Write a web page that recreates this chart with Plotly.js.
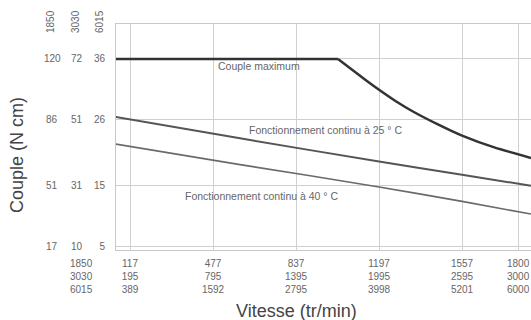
<!DOCTYPE html>
<html>
<head>
<meta charset="utf-8">
<script src="https://cdn.plot.ly/plotly-3.0.1.min.js"></script>
<style>
html,body{margin:0;padding:0;background:#fff;}
#chart{width:531px;height:320px;}
</style>
</head>
<body>
<div id="chart"></div>
<script>
// X axis: speed (tr/min) for the three windings; positions use row 1
const windings = ["1850", "3030", "6015"];
const speed1850 = [117, 477, 837, 1197, 1557, 1800];
const speed3030 = [195, 795, 1395, 1995, 2595, 3000];
const speed6015 = [389, 1592, 2795, 3998, 5201, 6000];

// Y axis: torque (N cm) for the three windings; positions use the 6015 column
const torque1850 = [17, 51, 86, 120];
const torque3030 = [10, 31, 51, 72];
const torque6015 = [5, 15, 26, 36];

// Curves (x in 1850 speed units, y in 6015 torque units)
const maxFlatX = [56, 1019];
const maxFlatY = [36, 36];
const maxCurveX = [1019, 1143, 1197, 1270, 1344, 1450, 1557, 1700, 1856];
const maxCurveY = [36, 32.4, 30.9, 29.0, 27.3, 25.2, 23.3, 21.3, 19.6];

const c25X = [56, 594, 1197, 1557, 1856];
const c25Y = [26.4, 22.85, 19.0, 16.8, 15.0];

const c40X = [56, 594, 1197, 1557, 1856];
const c40Y = [21.9, 18.5, 14.8, 12.4, 10.3];

const labelMax = "Couple maximum";
const label25 = "Fonctionnement continu à 25 ° C";
const label40 = "Fonctionnement continu à 40 ° C";

const font = "Liberation Sans, Arial, Helvetica, sans-serif";
const grey = "#666";

const traces = [
  {x: maxFlatX, y: maxFlatY, mode: "lines", line: {color: "#333", width: 2.5}, hoverinfo: "skip"},
  {x: maxCurveX, y: maxCurveY, mode: "lines", line: {color: "#333", width: 2.5, shape: "spline", smoothing: 0.5}, hoverinfo: "skip"},
  {x: c25X, y: c25Y, mode: "lines", line: {color: "#555", width: 2, shape: "spline", smoothing: 0.6}, hoverinfo: "skip"},
  {x: c40X, y: c40Y, mode: "lines", line: {color: "#6a6a6a", width: 1.6, shape: "spline", smoothing: 0.6}, hoverinfo: "skip"}
];

const xText = speed1850.map((v, i) => v + "<br>" + speed3030[i] + "<br>" + speed6015[i]);

const annotations = [];
// y label columns 1850 and 3030
torque6015.forEach((pos, i) => {
  annotations.push({xref: "paper", yref: "y", x: 0, y: pos, xshift: -64, xanchor: "center", yanchor: "middle",
    text: String(torque1850[i]), showarrow: false, font: {family: font, size: 10, color: grey}});
  annotations.push({xref: "paper", yref: "y", x: 0, y: pos, xshift: -39, xanchor: "center", yanchor: "middle",
    text: String(torque3030[i]), showarrow: false, font: {family: font, size: 10, color: grey}});
});
// header labels (rotated) above the y columns
const headShift = [-66, -41, -17];
windings.forEach((w, i) => {
  annotations.push({xref: "paper", yref: "paper", x: 0, y: 1, xshift: headShift[i], yshift: 2,
    xanchor: "center", yanchor: "middle", textangle: -90, text: w, showarrow: false,
    font: {family: font, size: 10, color: grey}});
});
// row headers for the x labels
annotations.push({xref: "paper", yref: "paper", x: 0, y: 0, xshift: -35, yshift: -6,
  xanchor: "center", yanchor: "top", text: windings.join("<br>"), showarrow: false,
  font: {family: font, size: 10, color: grey}});
// curve labels
annotations.push({xref: "x", yref: "y", x: 676, y: 34.8, text: labelMax, showarrow: false,
  xanchor: "center", yanchor: "middle", font: {family: font, size: 10.5, color: grey}});
annotations.push({xref: "x", yref: "y", x: 963, y: 24.2, text: label25, showarrow: false,
  xanchor: "center", yanchor: "middle", font: {family: font, size: 10.5, color: grey}});
annotations.push({xref: "x", yref: "y", x: 689, y: 13.3, text: label40, showarrow: false,
  xanchor: "center", yanchor: "middle", font: {family: font, size: 10.5, color: grey}});
// axis titles
annotations.push({xref: "paper", yref: "paper", x: 0, y: 0, xshift: 180, yshift: -61,
  xanchor: "center", yanchor: "middle", text: "Vitesse (tr/min)", showarrow: false,
  font: {family: font, size: 18, color: "#444"}});
annotations.push({xref: "paper", yref: "paper", x: 0, y: 0, xshift: -99, yshift: 95,
  xanchor: "center", yanchor: "middle", textangle: -90, text: "Couple (N cm)", showarrow: false,
  font: {family: font, size: 18, color: "#444"}});

const layout = {
  width: 531, height: 320,
  margin: {l: 116, r: 0, t: 24, b: 70, pad: 0},
  paper_bgcolor: "#fff", plot_bgcolor: "#fff",
  showlegend: false,
  xaxis: {
    range: [56.3, 1856], tickmode: "array", tickvals: speed1850, ticktext: xText,
    showgrid: true, gridcolor: "#d0d0d0", gridwidth: 1, zeroline: false,
    showline: true, linecolor: "#c8c8c8", linewidth: 1, mirror: true,
    ticks: "", tickfont: {family: font, size: 10, color: grey}, ticklabelstandoff: 4, fixedrange: true
  },
  yaxis: {
    range: [4.35, 41.79], tickmode: "array", tickvals: torque6015, ticktext: torque6015.map(String),
    showgrid: true, gridcolor: "#d0d0d0", gridwidth: 1, zeroline: false,
    showline: true, linecolor: "#c8c8c8", linewidth: 1, mirror: false,
    ticks: "", tickfont: {family: font, size: 10, color: grey}, ticklabelstandoff: 8, fixedrange: true
  },
  annotations: annotations
};

Plotly.newPlot("chart", traces, layout, {displayModeBar: false, staticPlot: true});
</script>
</body>
</html>
